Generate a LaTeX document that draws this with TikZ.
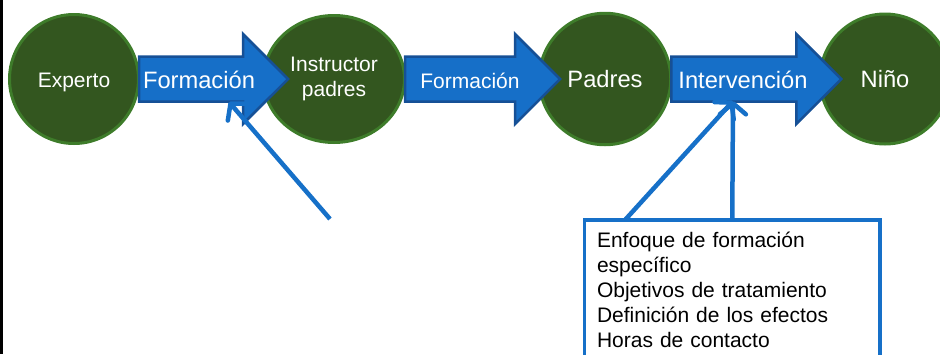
\documentclass[tikz,border=0pt]{standalone}
\usepackage{fontspec}
\setmainfont{Liberation Sans}
\usepackage{tikz}
\usetikzlibrary{arrows.meta,shapes.geometric,shapes.arrows}
\usetikzlibrary{positioning}
\definecolor{stagefill}{RGB}{51,86,31}
\definecolor{stageline}{RGB}{62,124,42}
\definecolor{flowfill}{RGB}{22,111,200}
\definecolor{flowline}{RGB}{22,80,150}
\definecolor{pointblue}{RGB}{22,112,200}
\newcommand\lblsmall{\fontsize{21}{25}\selectfont}
\newcommand\lblbig{\fontsize{23.7}{28}\selectfont}
\tikzset{
    stage/.style={
           circle,
           fill=stagefill,
           draw=stageline, line width=3pt,
           text=white,
           font=\lblsmall,
           align=center,
           inner sep=0pt,
           minimum size=129pt,
           },
    oneline/.style={text height=16pt, text depth=0pt},
    flow/.style={
           single arrow,
           fill=flowfill,
           draw=flowline, line width=2.5pt,
           single arrow head extend=22.5pt,
           inner xsep=0pt, inner ysep=21.25pt,
           text height=0pt, text depth=0pt,
           outer sep=0pt,
           },
    flowtext/.style={text=white, anchor=base, inner sep=0pt},
    pointer/.style={
           draw=pointblue, line width=4.5pt,
           -{Straight Barb[length=11pt,width=26pt,round]},
           },
    notebox/.style={
           rectangle,
           draw=pointblue, line width=3.5pt,
           font=\lblsmall,
           text width=270.5pt,
           align=left,
           inner xsep=12.5pt, inner ysep=12.5pt,
           outer sep=0pt,
           anchor=north west,
           },
}
\begin{document}
\begin{tikzpicture}[x=1pt,y=-1pt]
 \useasboundingbox (0,0) rectangle (940,354);
 \draw[line width=3pt] (1.5,0) -- (1.5,354);
 % the four stages
 \node[stage,oneline] (experto) at (74,79) {Experto};
 \node[stage,
 ellipse,
 minimum width=141pt, minimum height=127pt,
 right of=experto,
 node distance=260pt] (instructor) {Instructor\\padres};
 \node[stage,oneline,
 font=\lblbig,
 minimum size=131.5pt,
 right of=instructor,
 node distance=271pt] (padres) {Padres};
 \node[stage,oneline,
 font=\lblbig,
 minimum size=130pt,
 right of=padres,
 node distance=280pt] (nino) {Niño};
 % block arrows between the stages
 \node[flow, minimum height=149pt, right=-1pt of experto] (a1) {};
 \node[flow, minimum height=155pt, right=-1pt of instructor] (a2) {};
 \node[flow, minimum height=170pt, right=-1pt of padres] (a3) {};
 \node[flowtext, font=\lblbig] (f1) at (199,88) {Formación};
 \node[flowtext, font=\lblsmall] (f2) at (470,88) {Formación};
 \node[flowtext, font=\lblbig] (f3) at (743,88) {Intervención};
 % note box and pointers
 \node[notebox] (notas) at (584.5,220)
 {%
  Enfoque de formación\\
  específico\\
  Objetivos de tratamiento\\
  Definición de los efectos\\
  Horas de contacto
 };
 \coordinate (s1) at (330,219);
 \coordinate (t1) at (229,102);
 \coordinate (s3) at (625,220);
 \coordinate (t3) at (733,101);
\path
  (s1) edge[pointer] (t1)
  (s3) edge[pointer] (t3)
  (notas.north) edge[pointer] (t3)
 ;
\end{tikzpicture}
\end{document}
